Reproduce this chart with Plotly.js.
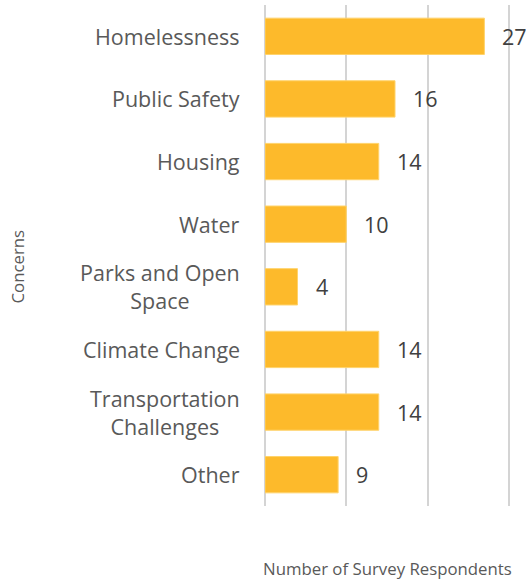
<!DOCTYPE html>
<html>
<head>
<meta charset="utf-8">
<script src="https://cdn.plot.ly/plotly-3.0.1.min.js"></script>
<style>html,body{margin:0;padding:0;background:#fff;}#chart{width:526px;height:580px;}</style>
</head>
<body>
<div id="chart"></div>
<script>
var categories = ["Homelessness", "Public Safety", "Housing", "Water", "Parks and Open<br>Space", "Climate Change", "Transportation<br>Challenges", "Other"];
var respondents = [27, 16, 14, 10, 4, 14, 14, 9];
var xTitle = "Number of Survey Respondents";
var yTitle = "Concerns";

var FONT = "'Open Sans', sans-serif";
var annotations = [];
categories.forEach(function (c, i) {
  annotations.push({
    xref: 'paper', yref: 'y', x: 0, y: c, text: c,
    xanchor: 'right', yanchor: 'middle', align: 'center', xshift: -23,
    showarrow: false, font: {family: FONT, size: 21.5, color: '#595959'}
  });
  annotations.push({
    xref: 'x', yref: 'y', x: respondents[i], y: c, text: String(respondents[i]),
    xanchor: 'left', yanchor: 'middle', xshift: 16,
    showarrow: false, font: {family: FONT, size: 21.5, color: '#404040'}
  });
});
annotations.push({
  xref: 'paper', yref: 'paper', x: 0, xshift: 122, y: 0, yshift: -62.5, text: xTitle,
  xanchor: 'center', yanchor: 'middle', showarrow: false,
  font: {family: FONT, size: 16.8, color: '#595959'}
});
annotations.push({
  xref: 'paper', yref: 'paper', x: 0, xshift: -247, y: 0.47, yshift: 4, text: yTitle, textangle: -90,
  xanchor: 'center', yanchor: 'middle', showarrow: false,
  font: {family: FONT, size: 16.8, color: '#595959'}
});

var trace = {
  type: 'bar', orientation: 'h',
  x: respondents, y: categories,
  marker: {color: '#FDBA2B', line: {color: '#FFD36B', width: 1}},
  hoverinfo: 'none'
};

var layout = {
  width: 526, height: 580,
  margin: {l: 265, r: 14, t: 5, b: 74},
  paper_bgcolor: '#ffffff', plot_bgcolor: '#ffffff',
  showlegend: false,
  bargap: 0.42,
  xaxis: {
    range: [0, 30.4], dtick: 10, tick0: 0, showticklabels: false, ticks: '',
    showgrid: true, gridcolor: '#D4D4D4', gridwidth: 2,
    zeroline: true, zerolinecolor: '#D4D4D4', zerolinewidth: 2,
    showline: false, fixedrange: true
  },
  yaxis: {
    type: 'category', autorange: 'reversed', categoryorder: 'array', categoryarray: categories,
    showticklabels: false, ticks: '', showgrid: false, zeroline: false, showline: false, fixedrange: true
  },
  annotations: annotations
};

Plotly.newPlot('chart', [trace], layout, {displayModeBar: false, staticPlot: true});
</script>
</body>
</html>
